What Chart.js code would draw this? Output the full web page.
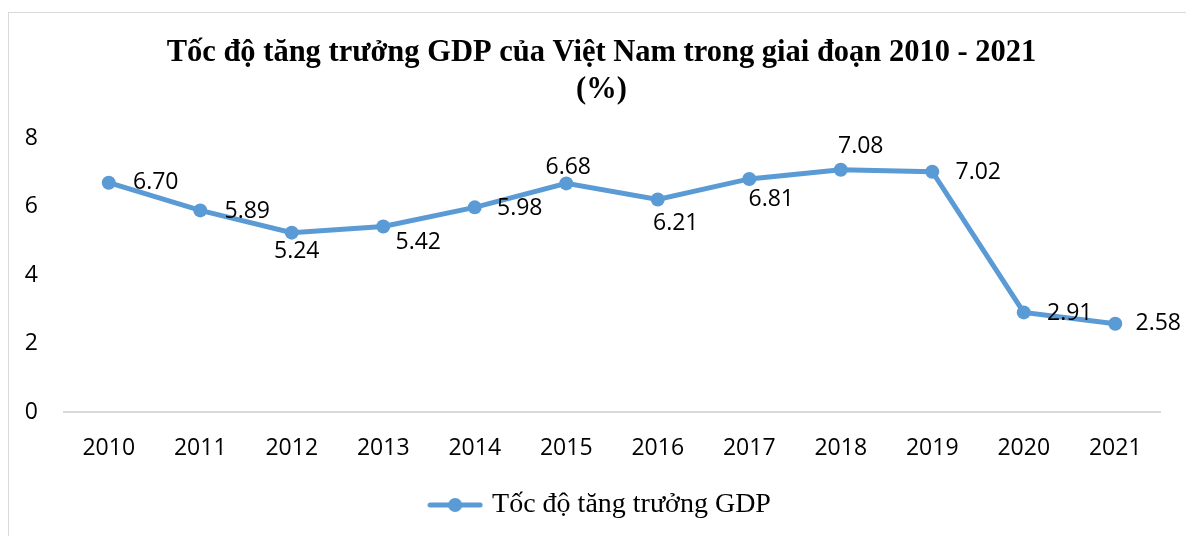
<!DOCTYPE html>
<html>
<head>
<meta charset="utf-8">
<script src="https://cdn.jsdelivr.net/npm/chart.js@4"></script>
<style>
  html, body { margin: 0; padding: 0; background: #fff; overflow: hidden; }
  #frame { position: absolute; left: 8px; top: 12px; width: 1300px; height: 700px; border: 1px solid #d9d9d9; }
  #gdpChart { position: absolute; left: 0; top: 0; width: 1186px; height: 536px; }
</style>
</head>
<body>
<div id="frame"></div>
<canvas id="gdpChart" width="1186" height="536"></canvas>
<script>
// Tốc độ tăng trưởng GDP Việt Nam 2010 - 2021 (%)
const years = ['2010', '2011', '2012', '2013', '2014', '2015', '2016', '2017', '2018', '2019', '2020', '2021'];
const growth = [6.70, 5.89, 5.24, 5.42, 5.98, 6.68, 6.21, 6.81, 7.08, 7.02, 2.91, 2.58];
const seriesName = 'Tốc độ tăng trưởng GDP';
const titleLines = ['Tốc độ tăng trưởng GDP của Việt Nam trong giai đoạn 2010 - 2021', '(%)'];
const yTicks = [0, 2, 4, 6, 8];

const lineColor = '#5B9BD5';
const sansFont = "'Open Sans', sans-serif";
const serifFont = "'Liberation Serif', 'Times New Roman', serif";

// where each value label sits relative to its point (centre offset, px)
const labelNudge = [[47, 0], [47, 1], [5, 19], [35, 16], [45, 1], [2, -16],
                    [18, 24], [22, 21], [20, -23], [46, 1], [46, 1], [43, 0]];

// legend marker: line with a dot, like the Excel one
const marker = document.createElement('canvas');
marker.width = 56;
marker.height = 16;
const mctx = marker.getContext('2d');
mctx.strokeStyle = lineColor;
mctx.lineWidth = 5;
mctx.lineCap = 'round';
mctx.beginPath();
mctx.moveTo(3, 8);
mctx.lineTo(53, 8);
mctx.stroke();
mctx.fillStyle = lineColor;
mctx.beginPath();
mctx.arc(28, 8, 7, 0, Math.PI * 2);
mctx.fill();

const valueLabels = {
    id: 'valueLabels',
    afterDatasetsDraw(chart) {
        const ctx = chart.ctx;
        const meta = chart.getDatasetMeta(0);
        ctx.save();
        ctx.font = '23px ' + sansFont;
        ctx.fillStyle = '#000';
        ctx.textAlign = 'center';
        ctx.textBaseline = 'middle';
        meta.data.forEach((pt, i) => {
            const n = labelNudge[i];
            ctx.fillText(growth[i].toFixed(2), pt.x + n[0], pt.y + n[1]);
        });
        ctx.restore();
    }
};

// Excel centres title and legend a bit right of the canvas middle
const shiftBlocks = {
    id: 'shiftBlocks',
    afterLayout(chart) {
        if (chart.titleBlock) chart.titleBlock.left = 42;
        if (chart.legend) chart.legend.left = 42;
    }
};

const ctx = document.getElementById('gdpChart').getContext('2d');
const myChart = new Chart(ctx, {
    type: 'line',
    data: {
        labels: years,
        datasets: [{
            label: seriesName,
            data: growth,
            borderColor: lineColor,
            backgroundColor: lineColor,
            borderWidth: 5,
            pointRadius: 7,
            pointHoverRadius: 7,
            pointBackgroundColor: lineColor,
            pointBorderWidth: 0,
            tension: 0
        }]
    },
    options: {
        responsive: false,
        animation: false,
        devicePixelRatio: 1,
        layout: { padding: { left: 0, right: 25, top: 0, bottom: 7 } },
        scales: {
            x: {
                offset: true,
                grid: { display: false, drawTicks: false },
                border: { display: false },
                ticks: { color: '#000', font: { family: sansFont, size: 23 }, padding: 23, maxRotation: 0 },
                afterFit(scale) { scale.height = 69; }
            },
            y: {
                min: 0,
                max: 8,
                afterBuildTicks(scale) { scale.ticks = yTicks.map(v => ({ value: v })); },
                grid: {
                    drawTicks: false,
                    color: c => c.tick && c.tick.value === 0 ? '#d9d9d9' : 'rgba(0,0,0,0)',
                    lineWidth: 2
                },
                border: { display: false },
                ticks: { color: '#000', font: { family: sansFont, size: 23 }, padding: 25 },
                afterFit(scale) { scale.width = 63; }
            }
        },
        plugins: {
            title: {
                display: true,
                text: titleLines,
                color: '#000',
                font: { family: serifFont, size: 30.5, weight: 'bold', lineHeight: 1.2 },
                padding: { top: 35, bottom: 30 }
            },
            legend: {
                position: 'bottom',
                labels: {
                    color: '#000',
                    font: { family: serifFont, size: 28 },
                    usePointStyle: true,
                    pointStyleWidth: 46,
                    generateLabels(chart) {
                        return [{
                            text: seriesName,
                            pointStyle: marker,
                            fillStyle: lineColor,
                            strokeStyle: lineColor,
                            lineWidth: 0,
                            datasetIndex: 0
                        }];
                    }
                }
            },
            tooltip: { enabled: false }
        }
    },
    plugins: [valueLabels, shiftBlocks]
});
</script>
</body>
</html>
